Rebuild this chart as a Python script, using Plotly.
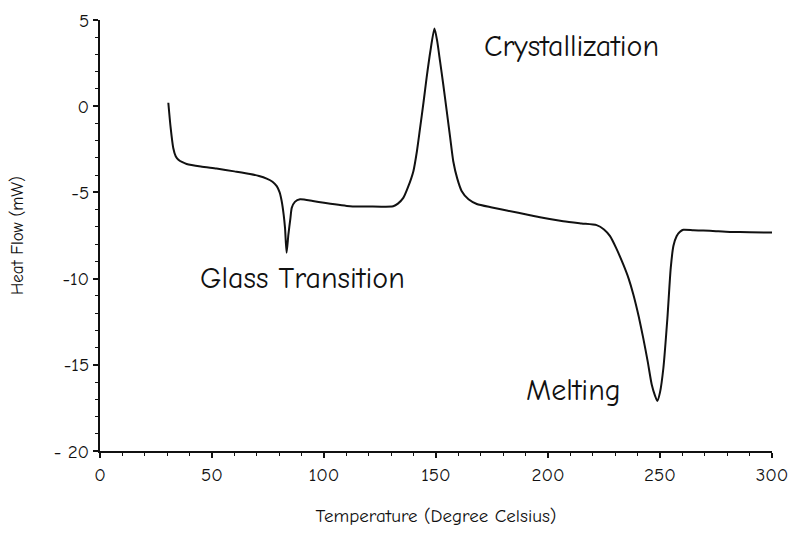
import plotly.graph_objects as go

# Temperature (°C) and heat flow (mW)
temperature = [30.5, 31.5, 32.7, 33.8, 35.0, 36.8, 38.7, 45.0, 52.0, 60.0, 67.0, 71.0, 74.4, 77.0,
               78.9, 80.2, 81.1, 82.0, 82.6, 83.3, 84.1, 85.0, 85.6, 87.0, 89.3, 95.0, 100.0,
               111.6, 120.0, 130.9, 133.0, 135.4, 137.5, 139.9, 141.5, 142.9, 144.4, 145.8,
               147.5, 149.3, 150.5, 151.8, 153.3, 154.8, 156.3, 157.7, 159.5, 161.5, 164.5,
               168.2, 175.0, 181.6, 192.0, 196.4, 206.8, 215.0, 221.7, 225.0, 227.7, 230.5,
               233.6, 236.0, 238.1, 240.5, 242.5, 244.5, 246.3, 247.8, 248.8, 250.0, 251.5,
               253.3, 254.8, 256.0, 257.4, 258.8, 260.4, 265.0, 269.3, 275.0, 281.3, 290.0, 300.3]
heat_flow = [0.2, -1.2, -2.42, -2.9, -3.1, -3.25, -3.35, -3.5, -3.62, -3.78, -3.93, -4.05, -4.2, -4.38,
             -4.64, -5.0, -5.5, -6.3, -7.06, -8.5, -7.45, -6.5, -5.9, -5.55, -5.4, -5.5, -5.6,
             -5.8, -5.82, -5.8, -5.65, -5.32, -4.7, -3.77, -2.6, -1.26, 0.2, 1.64,
             3.2, 4.5, 3.8, 2.61, 1.2, -0.29, -1.8, -3.19, -4.2, -4.93, -5.4,
             -5.67, -5.87, -6.05, -6.32, -6.44, -6.67, -6.8, -6.9, -7.15, -7.54, -8.25,
             -9.18, -10.0, -10.92, -12.2, -13.44, -14.8, -16.14, -16.8, -17.1, -16.6, -15.2,
             -12.3, -9.38, -8.1, -7.54, -7.3, -7.17, -7.2, -7.21, -7.25, -7.29, -7.31, -7.33]

x_ticks = [0, 50, 100, 150, 200, 250, 300]
x_labels = ["0", "50", "100", "150", "200", "250", "300"]
y_ticks = [5, 0, -5, -10, -15, -20]
y_labels = ["5", "0", "-5", "-10", "-15", "- 20"]

ann_text = ["Crystallization", "Glass Transition", "Melting"]
ann_x = [210.7, 90.2, 211.2]
ann_y = [3.48, -9.98, -16.47]

FONT = "Comic Sans MS, Comic Neue, Lato, DejaVu Sans, sans-serif"

fig = go.Figure()
fig.add_trace(go.Scatter(x=temperature, y=heat_flow, mode="lines",
                         line=dict(color="#111111", width=2, shape="spline", smoothing=0.6),
                         showlegend=False, hoverinfo="skip"))

for t, ax_, ay_ in zip(ann_text, ann_x, ann_y):
    fig.add_annotation(x=ax_, y=ay_, text=t, showarrow=False,
                       font=dict(family=FONT, size=30, color="#111111"))

fig.update_layout(
    width=793, height=539,
    margin=dict(l=100, r=21, t=20, b=88),
    paper_bgcolor="white", plot_bgcolor="white",
    font=dict(family=FONT, color="#111111"),
    xaxis=dict(range=[0, 300], tickvals=x_ticks, ticktext=x_labels, automargin=False,
               showgrid=False, zeroline=False, showline=True, linecolor="#111111", linewidth=2,
               ticks="outside", ticklen=5, tickwidth=1.5, tickcolor="#111111",
               minor=dict(dtick=10, ticks="outside", ticklen=3, tickcolor="#111111", tickwidth=1),
               tickfont=dict(size=19, family=FONT, color="#111111"),
               title=dict(text="Temperature (Degree Celsius)", font=dict(size=19, family=FONT), standoff=24)),
    yaxis=dict(range=[-20, 5], tickvals=y_ticks, ticktext=y_labels, automargin=False,
               showgrid=False, zeroline=False, showline=True, linecolor="#111111", linewidth=2,
               ticks="outside", ticklen=5, tickwidth=1.5, tickcolor="#111111",
               minor=dict(dtick=1, ticks="outside", ticklen=3, tickcolor="#111111", tickwidth=1),
               tickfont=dict(size=19, family=FONT, color="#111111"),
               title=dict(text="Heat Flow (mW)", font=dict(size=17, family=FONT), standoff=26)),
)

fig.write_html("out.html")
